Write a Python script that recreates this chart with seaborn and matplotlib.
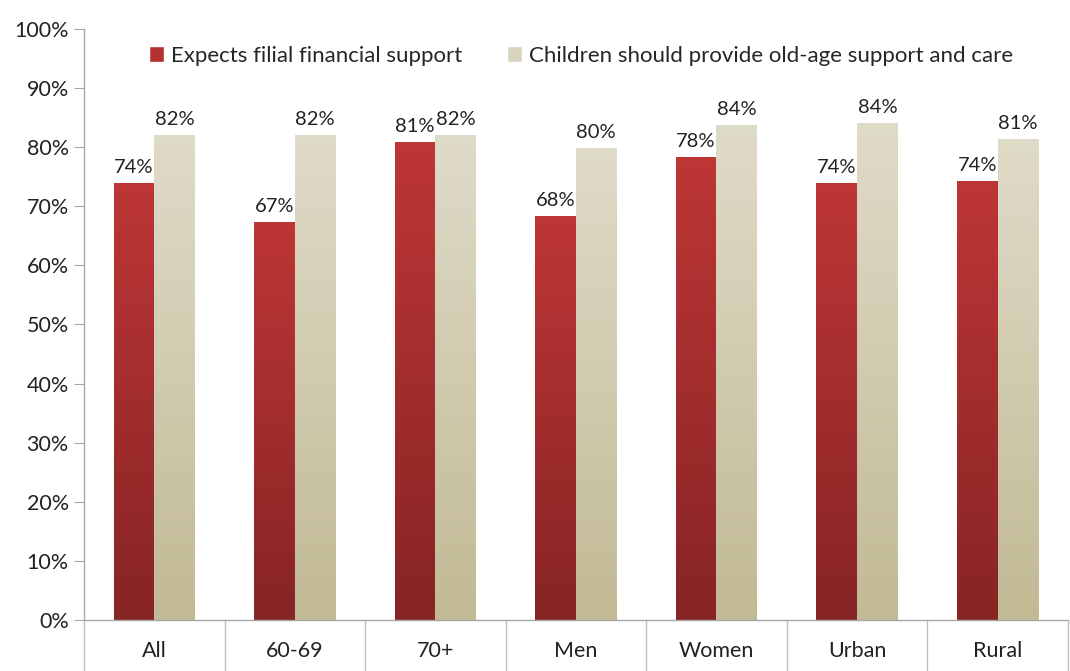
import numpy as np
import pandas as pd
import matplotlib
matplotlib.use("Agg")
import matplotlib.pyplot as plt
import seaborn as sns
from matplotlib.colors import LinearSegmentedColormap

# data
categories = ["All", "60-69", "70+", "Men", "Women", "Urban", "Rural"]
filial = [74.0, 67.4, 80.8, 68.3, 78.3, 73.9, 74.2]
children = [82.0, 82.1, 82.0, 79.9, 83.7, 84.1, 81.3]
series = ["Expects filial financial support",
          "Children should provide old-age support and care"]

df = pd.DataFrame({
    "group": categories * 2,
    "series": [series[0]] * len(categories) + [series[1]] * len(categories),
    "value": filial + children,
})

red = "#B43131"
beige = "#D9D4BE"
gradients = [("#BE3636", "#872424"), ("#DFDBC9", "#C2BA94")]

sns.set_style("white")
plt.rcParams['font.family'] = ['Lato', 'DejaVu Sans']

fig = plt.figure(figsize=(10.7, 6.71), dpi=100)
ax = fig.add_axes([0.0785, 0.076, 0.9195, 0.881])

sns.barplot(data=df, x="group", y="value", hue="series", order=categories,
            hue_order=series, palette=[red, beige], saturation=1,
            width=0.58, ax=ax)

# vertical gradient inside each bar
for cont, (top, bottom) in zip(ax.containers, gradients):
    cmap = LinearSegmentedColormap.from_list("g", [bottom, top])
    for bar in cont:
        x0, w, h = bar.get_x(), bar.get_width(), bar.get_height()
        grad = np.linspace(0, 1, 256).reshape(-1, 1)
        im = ax.imshow(grad, cmap=cmap, origin="lower", aspect="auto",
                       extent=[x0, x0 + w, 0, h], zorder=bar.get_zorder() + 0.1)
        im.set_clip_path(bar)
        bar.set_edgecolor("none")
    ax.bar_label(cont, fmt="{:.0f}%", padding=5, fontsize=14.5, color="#222222")

ax.set_xlim(-0.5, len(categories) - 0.5)
ax.set_ylim(0, 100)
ax.set_yticks(np.arange(0, 101, 10))
ax.set_yticklabels([f"{t}%" for t in range(0, 101, 10)])
ax.set_xlabel("")
ax.set_ylabel("")

for s in ["top", "right"]:
    ax.spines[s].set_visible(False)
for s in ["left", "bottom"]:
    ax.spines[s].set_color("#A6A6A6")
    ax.spines[s].set_linewidth(1)

ax.tick_params(axis="y", left=True, length=7, color="#A6A6A6", labelsize=15.5,
               labelcolor="#222222", pad=4)
ax.tick_params(axis="x", which="major", bottom=True, length=0, labelsize=15.5,
               labelcolor="#222222", pad=15)
# category separators below the axis
ax.set_xticks(np.arange(-0.5, len(categories), 1), minor=True)
ax.tick_params(axis="x", which="minor", bottom=True, length=37,
               color="#BFBFBF", width=1)

ax.legend(loc="upper center", bbox_to_anchor=(0.505, 1.005), ncol=2,
          frameon=False, fontsize=16, handlelength=0.7, handleheight=0.7,
          handletextpad=0.3, columnspacing=2.0)

fig.savefig("out.png", dpi=100)
